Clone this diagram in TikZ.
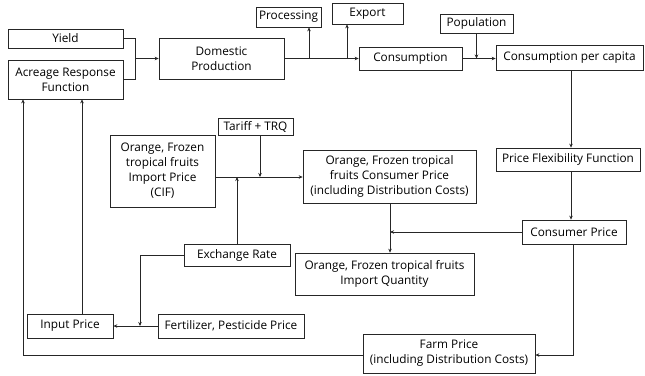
\documentclass[tikz,border=0pt]{standalone}
\usepackage{fontspec}
\setmainfont{Open Sans}
\usetikzlibrary{arrows.meta}
\newcommand\mybox[6]{\node[box, minimum width={(#4-#2)*1pt}, minimum height={(#5-#3)*1pt}] (#1) at ({(#2+#4)/2},{(#3+#5)/2}) {#6};}
\begin{document}
\begin{tikzpicture}[x=1pt,y=-1pt,
  box/.style={draw=black!85, line width=0.7pt, inner sep=0pt, align=center, font=\fontsize{11.8}{15}\selectfont},
  con/.style={line width=0.7pt, draw=black!85},
  arr/.style={con, -{Stealth[length=4pt,width=3.5pt]}}]
\useasboundingbox (0,0) rectangle (645,375);
\mybox{yield}{8}{29}{123}{48}{Yield}
\mybox{arf}{8}{60}{123}{99}{Acreage Response\\Function}
\mybox{dp}{159}{38}{284}{79}{Domestic\\Production}
\mybox{proc}{256}{7}{321}{27}{Processing}
\mybox{export}{332}{3}{403}{24}{Export}
\mybox{cons}{359}{47}{462}{70}{Consumption}
\mybox{pop}{440}{14}{513}{33}{Population}
\mybox{cpc}{496}{45}{643}{70}{Consumption per capita}
\mybox{pff}{496}{148}{640}{171}{Price Flexibility Function}
\mybox{cp}{522}{220}{626}{244}{Consumer Price}
\mybox{oip}{110}{135}{215}{207}{Orange, Frozen\\tropical fruits\\Import Price\\(CIF)}
\mybox{tariff}{218}{118}{293}{135}{Tariff + TRQ}
\mybox{ofcp}{303}{150}{476}{203}{Orange, Frozen tropical\\fruits Consumer Price\\(including Distribution Costs)}
\mybox{er}{184}{244}{290}{266}{Exchange Rate}
\mybox{iq}{295}{253}{474}{295}{Orange, Frozen tropical fruits\\Import Quantity}
\mybox{ip}{27}{314}{113}{338}{Input Price}
\mybox{fert}{158}{314}{304}{338}{Fertilizer, Pesticide Price}
\mybox{farm}{363}{334}{535}{373}{Farm Price\\(including Distribution Costs)}
% junctions
\coordinate (j1) at (135,58.5);
\coordinate (pj) at (309,58.5);
\coordinate (ej) at (347,58.5);
\coordinate (cx) at (571,0);
\coordinate (vx) at (390,0);
\coordinate (hy) at (0,177);
\coordinate (tx) at (260,177);
\coordinate (ex) at (237,177);
\coordinate (fx) at (140,326);
\coordinate (ax) at (82,0);
\coordinate (fy) at (573,355);
\coordinate (lx) at (23,355);
% connectors
\draw[con] (yield.east) -| (j1);
\draw[con] (arf.east) -| (j1);
\draw[arr] (j1) -- (dp.west);
\draw[arr] (dp.east) -- (cons.west);
\draw[arr] (pj) -- (pj |- proc.south);
\draw[arr] (ej) -- (ej |- export.south);
\draw[arr] (cons.east) -- (cons.east -| cpc.west);
\draw[arr] (pop.south) -- (pop.south |- cons.east);
\draw[arr] (cpc.south -| cx) -- (pff.north -| cx);
\draw[arr] (pff.south -| cx) -- (cp.north -| cx);
\draw[arr] (cp.west) -- (cp.west -| vx);
\draw[arr] (ofcp.south -| vx) -- (iq.north -| vx);
\draw[arr] (oip.east |- hy) -- (ofcp.west |- hy);
\draw[arr] (tariff.south -| tx) -- (tx);
\draw[arr] (er.north) -- (ex);
\draw[arr] (er.west) -| (fx);
\draw[arr] (fert.west) -- (ip.east);
\draw[arr] (ip.north -| ax) -- (arf.south -| ax);
\draw[arr] (cp.south -| fy) -- (fy) -- (farm.east |- fy);
\draw[arr] (farm.west |- lx) -- (lx) -- (lx |- arf.south);
\end{tikzpicture}
\end{document}
